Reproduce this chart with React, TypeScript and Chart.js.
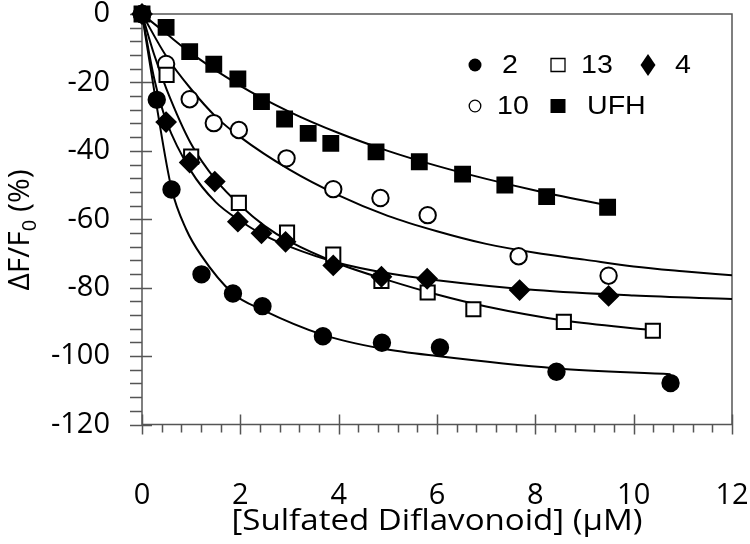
import React, { useEffect, useRef } from "react";
import { Chart, registerables } from "chart.js";

Chart.register(...registerables);

// ---------- data ----------
// Compound 2 (filled circles)
const s2X = [0, 0.3, 0.6, 1.21, 1.85, 2.45, 3.68, 4.88, 6.06, 8.43, 10.75];
const s2Y = [0, -25.1, -51.3, -76.1, -81.7, -85.4, -94.2, -96.1, -97.5, -104.6, -107.9];
// Compound 13 (open squares)
const s13X = [0, 0.5, 1.0, 1.97, 2.95, 3.89, 4.87, 5.81, 6.74, 8.58, 10.39];
const s13Y = [0, -17.8, -41.7, -55.2, -63.9, -70.3, -78.0, -81.4, -86.3, -90.0, -92.6];
// Compound 4 (filled diamonds)
const s4X = [0, 0.49, 0.97, 1.48, 1.95, 2.43, 2.92, 3.89, 4.87, 5.8, 7.68, 9.49];
const s4Y = [0, -31.6, -43.4, -49.0, -60.7, -64.1, -66.6, -73.5, -76.8, -77.4, -80.7, -82.4];
// Compound 10 (open circles)
const s10X = [0, 0.49, 0.97, 1.46, 1.97, 2.94, 3.89, 4.85, 5.81, 7.66, 9.49];
const s10Y = [0, -14.6, -24.9, -31.9, -33.9, -42.2, -51.2, -53.8, -58.8, -70.8, -76.5];
// UFH (filled squares)
const sUX = [0, 0.49, 0.97, 1.46, 1.95, 2.43, 2.9, 3.38, 3.84, 4.76, 5.64, 6.52, 7.38, 8.23, 9.47];
const sUY = [0, -3.9, -11.0, -14.7, -19.0, -25.6, -30.7, -34.9, -37.8, -40.3, -43.2, -46.8, -50.0, -53.4, -56.5];

// Fitted curves
const c2X = [0, 0.3, 0.6, 0.9, 1.2, 1.85, 2.45, 3.68, 4.88, 6.0, 8.43, 10.75];
const c2Y = [0, -27, -51, -63, -70.5, -81.7, -86.5, -93.8, -97.8, -100, -103.6, -105.3];
const c13X = [0, 0.25, 0.5, 1, 1.5, 2, 2.5, 3, 4, 5, 6, 7, 8.58, 10.39];
const c13Y = [0, -12, -22, -38, -48.5, -56, -62, -66.5, -73, -77.8, -82, -85.5, -89.6, -92.4];
const c4X = [0, 0.25, 0.5, 1, 1.5, 2, 2.5, 3, 4, 5, 6, 8, 10, 12];
const c4Y = [0, -19, -31.5, -46, -55, -60.5, -64.8, -68, -72.8, -75.8, -77.8, -80.7, -82.3, -83.3];
const c10X = [0, 0.5, 1, 1.5, 2, 3, 4, 5, 6, 7, 8, 9, 10, 11, 12];
const c10Y = [0, -12.5, -22, -30, -36, -45.5, -53, -59, -63.5, -67.2, -69.8, -71.8, -73.8, -75.2, -76.4];
const cUX = [0, 0.5, 1, 2, 3, 4, 5, 6, 7, 8, 9, 9.5];
const cUY = [0, -5.8, -11.5, -21, -28.6, -34.8, -40, -44.4, -48.2, -51.6, -54.6, -56];

// Axes
const X_MIN = 0, X_MAX = 12, X_STEP = 2, X_MINOR = 0.4;
const Y_MIN = -120, Y_MAX = 0, Y_STEP = 20, Y_MINOR = 4;
const X_TITLE = "[Sulfated Diflavonoid] (\u03BCM)";
const Y_TITLE_MAIN = "\u0394F/F";
const Y_TITLE_SUB = "0";
const Y_TITLE_END = " (%)";

// Legend
const legendRow1 = [
  { label: "2", marker: "circleFilled" },
  { label: "13", marker: "squareOpen" },
  { label: "4", marker: "diamond" },
];
const legendRow2 = [
  { label: "10", marker: "circleOpen" },
  { label: "UFH", marker: "squareFilled" },
];

const pts = (xs: number[], ys: number[]) => xs.map((x, i) => ({ x, y: ys[i] }));

const INK = "#000";
const AXIS = "#555";
const TICK_FONT = "'Open Sans', sans-serif";

const axesPlugin = {
  id: "customAxes",
  beforeDatasetsDraw(chart: any) {
    const { ctx, chartArea: a, scales } = chart;
    const xs = scales.x, ys = scales.y;
    ctx.save();
    ctx.strokeStyle = AXIS;
    ctx.lineWidth = 1.5;
    ctx.beginPath();
    ctx.rect(a.left, a.top, a.right - a.left, a.bottom - a.top);
    ctx.stroke();
    ctx.beginPath();
    // y ticks
    const nY = Math.round((Y_MAX - Y_MIN) / Y_MINOR);
    for (let i = 0; i <= nY; i++) {
      const v = Y_MIN + i * Y_MINOR;
      const p = Math.round(ys.getPixelForValue(v)) + 0.5;
      const major = Math.abs(v % Y_STEP) < 1e-6;
      ctx.moveTo(a.left - 12, p);
      ctx.lineTo(a.left + (major ? 10 : 0), p);
    }
    // x ticks
    const nX = Math.round((X_MAX - X_MIN) / X_MINOR);
    for (let i = 0; i <= nX; i++) {
      const v = X_MIN + i * X_MINOR;
      const p = Math.round(xs.getPixelForValue(v)) + 0.5;
      const major = i % Math.round(X_STEP / X_MINOR) === 0;
      ctx.moveTo(p, a.bottom - (major ? 10 : 0));
      ctx.lineTo(p, a.bottom + (major ? 10 : 8));
    }
    ctx.stroke();
    ctx.restore();
  },
  afterDraw(chart: any) {
    const { ctx, chartArea: a } = chart;
    ctx.save();
    ctx.fillStyle = INK;
    // x title (stretched slightly to match the reference's width)
    ctx.font = `30px ${TICK_FONT}`;
    ctx.textAlign = "center";
    ctx.textBaseline = "middle";
    const tw = ctx.measureText(X_TITLE).width;
    const sx = 411 / tw;
    ctx.save();
    ctx.translate((a.left + a.right) / 2, 521);
    ctx.scale(sx, 1);
    ctx.fillText(X_TITLE, 0, 0);
    ctx.restore();
    // y title (rotated, with subscript)
    const mainFont = `30px ${TICK_FONT}`;
    const subFont = `20px ${TICK_FONT}`;
    ctx.font = mainFont;
    const w1 = ctx.measureText(Y_TITLE_MAIN).width;
    const w3 = ctx.measureText(Y_TITLE_END).width;
    ctx.font = subFont;
    const w2 = ctx.measureText(Y_TITLE_SUB).width;
    const total = w1 + w2 + w3;
    ctx.translate(29, 230);
    ctx.rotate(-Math.PI / 2);
    ctx.textAlign = "left";
    ctx.textBaseline = "alphabetic";
    const x0 = -total / 2;
    ctx.font = mainFont;
    ctx.fillText(Y_TITLE_MAIN, x0, 0);
    ctx.font = subFont;
    ctx.fillText(Y_TITLE_SUB, x0 + w1, 7);
    ctx.font = mainFont;
    ctx.fillText(Y_TITLE_END, x0 + w1 + w2, 0);
    ctx.restore();

    // legend
    ctx.save();
    const drawMarker = (kind: string, cx: number, cy: number) => {
      ctx.fillStyle = INK;
      ctx.strokeStyle = INK;
      ctx.lineWidth = 1.3;
      ctx.beginPath();
      if (kind === "circleFilled") {
        ctx.arc(cx, cy, 6.5, 0, Math.PI * 2);
        ctx.fill();
      } else if (kind === "circleOpen") {
        ctx.arc(cx, cy, 5.8, 0, Math.PI * 2);
        ctx.stroke();
      } else if (kind === "squareOpen") {
        ctx.rect(cx - 7, cy - 6.5, 14, 13);
        ctx.stroke();
      } else if (kind === "squareFilled") {
        ctx.rect(cx - 7.5, cy - 7, 15, 14);
        ctx.fill();
      } else if (kind === "diamond") {
        ctx.moveTo(cx, cy - 11);
        ctx.lineTo(cx + 7.5, cy);
        ctx.lineTo(cx, cy + 11);
        ctx.lineTo(cx - 7.5, cy);
        ctx.closePath();
        ctx.fill();
      }
    };
    const R = a.right;
    const rows = [
      { items: legendRow1, y: 65, mx: [R - 257, R - 174, R - 84], tx: [R - 230, R - 151, R - 57] },
      { items: legendRow2, y: 106, mx: [R - 257, R - 174], tx: [R - 235, R - 145] },
    ];
    ctx.font = `26px 'Liberation Sans', Arial, sans-serif`;
    ctx.textBaseline = "middle";
    ctx.textAlign = "left";
    rows.forEach((row) => {
      row.items.forEach((it, i) => {
        drawMarker(it.marker, row.mx[i], row.y);
        ctx.save();
        ctx.translate(row.tx[i], row.y + 1);
        ctx.scale(1.1, 1);
        ctx.fillStyle = INK;
        ctx.fillText(it.label, 0, 0);
        ctx.restore();
      });
    });
    ctx.restore();
  },
};

export default function App() {
  const ref = useRef<HTMLCanvasElement>(null);
  useEffect(() => {
    if (!ref.current) return;
    const fitLine = (xs: number[], ys: number[]) => ({
      type: "scatter" as const,
      data: pts(xs, ys),
      showLine: true,
      borderColor: INK,
      borderWidth: 2,
      pointRadius: 0,
      pointHoverRadius: 0,
      fill: false,
      cubicInterpolationMode: "monotone" as const,
      order: 10,
    });
    const marks = (xs: number[], ys: number[], style: string, filled: boolean, r: number, order: number) => ({
      type: "scatter" as const,
      data: pts(xs, ys),
      showLine: false,
      pointStyle: style,
      pointRadius: r,
      pointHoverRadius: r,
      pointBackgroundColor: filled ? INK : "#fff",
      pointBorderColor: INK,
      pointBorderWidth: 2,
      clip: false,
      order,
    });
    const chart = new Chart(ref.current, {
      type: "scatter",
      data: {
        datasets: [
          fitLine(c2X, c2Y),
          fitLine(c13X, c13Y),
          fitLine(c4X, c4Y),
          fitLine(c10X, c10Y),
          fitLine(cUX, cUY),
          marks(s10X, s10Y, "circle", false, 8.2, 5),
          marks(s13X, s13Y, "rect", false, 10, 4),
          marks(s4X, s4Y, "rectRot", true, 9.5, 3),
          marks(sUX, sUY, "rect", true, 10.5, 2),
          marks(s2X, s2Y, "circle", true, 8.2, 1),
        ] as any,
      },
      options: {
        animation: false,
        responsive: false,
        maintainAspectRatio: false,
        layout: { padding: { top: 14, right: 18, left: 0, bottom: 0 } },
        plugins: { legend: { display: false }, tooltip: { enabled: false } },
        events: [],
        scales: {
          x: {
            type: "linear",
            min: X_MIN,
            max: X_MAX,
            grid: { display: false, drawTicks: false },
            border: { display: false },
            ticks: {
              stepSize: X_STEP,
              autoSkip: false,
              maxRotation: 0,
              padding: 57,
              color: INK,
              font: { family: TICK_FONT, size: 29, lineHeight: 1 },
            },
            afterFit: (s: any) => {
              s.height = 119.5;
              s.paddingLeft = 0;
              s.paddingRight = 0;
            },
          },
          y: {
            type: "linear",
            min: Y_MIN,
            max: Y_MAX,
            grid: { display: false, drawTicks: false },
            border: { display: false },
            ticks: {
              stepSize: Y_STEP,
              autoSkip: false,
              padding: 32,
              color: INK,
              font: { family: TICK_FONT, size: 29, lineHeight: 1 },
            },
            afterFit: (s: any) => {
              s.width = 142;
              s.paddingTop = 0;
              s.paddingBottom = 0;
            },
          },
        },
      },
      plugins: [axesPlugin],
    });
    return () => chart.destroy();
  }, []);
  return (
    <div style={{ position: "fixed", left: 0, top: 0, width: 750, height: 544, background: "#fff" }}>
      <canvas ref={ref} width={750} height={544} style={{ display: "block" }} />
    </div>
  );
}
